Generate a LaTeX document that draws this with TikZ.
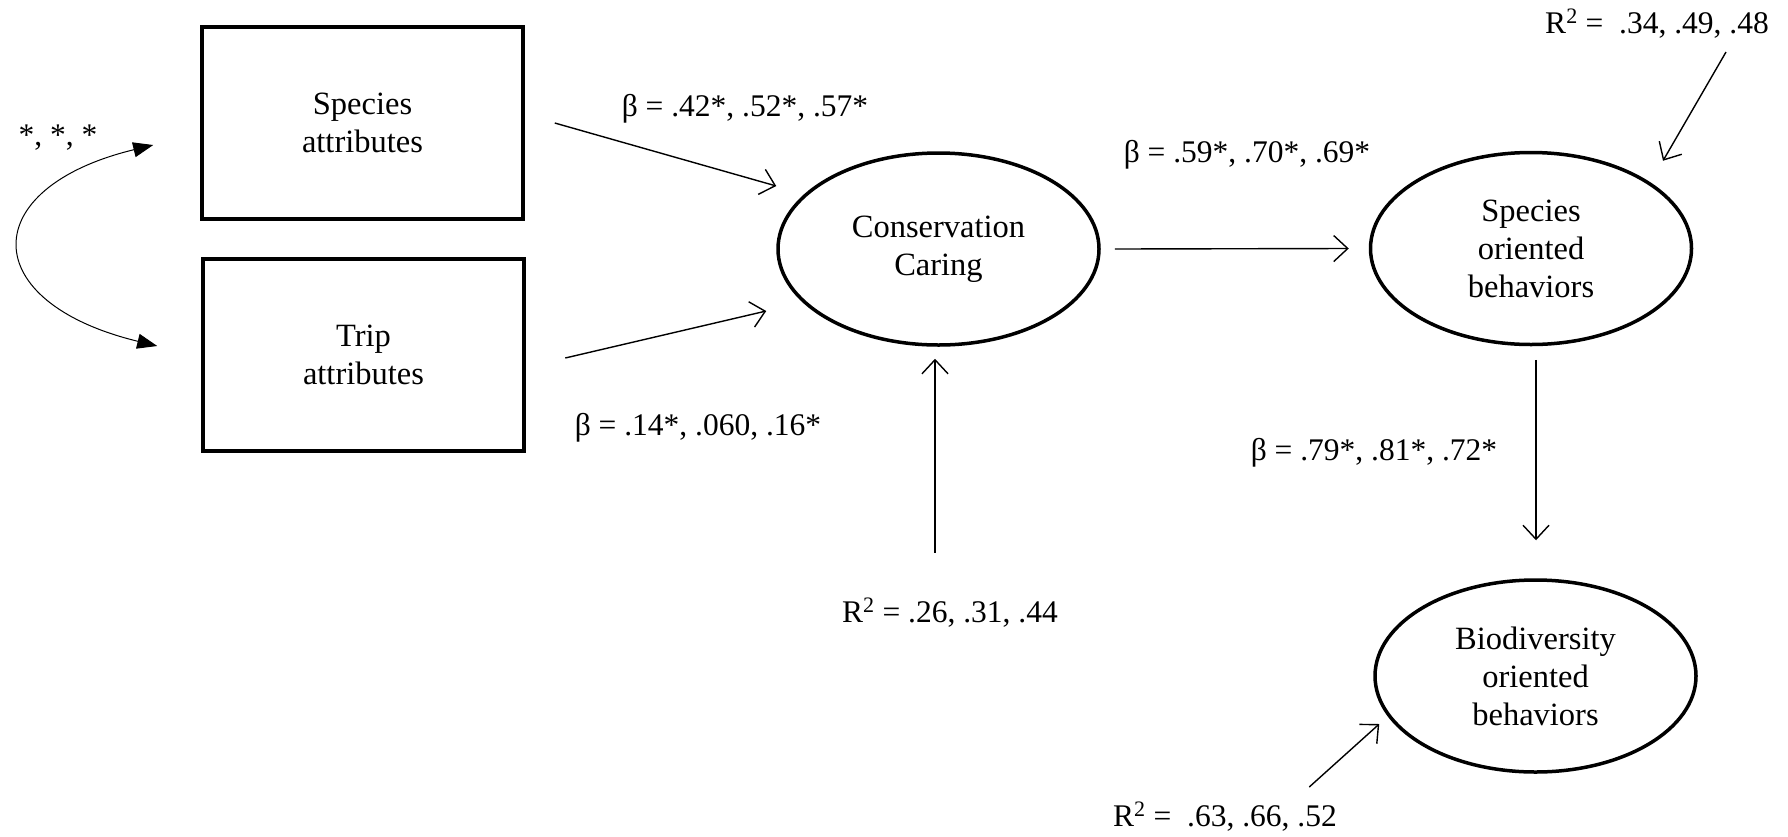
\documentclass[tikz,border=0pt]{standalone}
\usepackage{fontspec}
\setmainfont{Liberation Serif}
\usetikzlibrary{shapes.geometric,arrows.meta,calc}
\begin{document}
\begin{tikzpicture}[x=1pt,y=-1pt,
  nodetxt/.style={font=\fontsize{32.5}{38}\selectfont, align=center, inner sep=0pt},
  attrbox/.style={draw, rectangle, line width=3.5pt, minimum width=321pt, minimum height=192pt, nodetxt},
  latent/.style={draw, ellipse, line width=3.5pt, minimum width=321pt, minimum height=192pt, nodetxt},
  lbl/.style={font=\fontsize{31.5}{36}\selectfont, inner sep=0pt, anchor=base},
  effect/.style={line width=1.4pt, -{Straight Barb[length=14pt,width=26pt,line width=1.4pt]}},
  covar/.style={line width=1pt, {Triangle[length=20pt,width=15pt]}-{Triangle[length=20pt,width=15pt]}}]
\useasboundingbox (0,0) rectangle (1788,836);

% observed predictors
\node[attrbox] (sa) at (362.5,123) {Species\\attributes};
\node[attrbox] (ta) at (363.5,355) {Trip\\attributes};

% latent constructs
\node[latent] (cc)  at (938.5,249)  {Conservation\\Caring};
\node[latent] (sob) at (1531,248.5) {Species\\oriented\\behaviors};
\node[latent] (bob) at (1535.5,676) {Biodiversity\\oriented\\behaviors};

% coefficients and explained variance
\node[lbl] (cov) at (58,145)   {*, *, *};
\node[lbl] (b1)  at (745,116)  {β = .42*, .52*, .57*};
\node[lbl] (b2)  at (698,435)  {β = .14*, .060, .16*};
\node[lbl] (b3)  at (1247,162) {β = .59*, .70*, .69*};
\node[lbl] (b4)  at (1374,460) {β = .79*, .81*, .72*};
\node[lbl] (r1)  at (950,622)  {R\textsuperscript{2} = .26, .31, .44};
\node[lbl] (r2)  at (1657,33)  {R\textsuperscript{2} =\ \ .34, .49, .48};
\node[lbl] (r3)  at (1225,826) {R\textsuperscript{2} =\ \ .63, .66, .52};

% covariance between the two predictors
\draw[covar] ($(sa.west)+(-47,22)$) .. controls (-24,188) and (-24,302) .. ($(ta.west)+(-44,-9)$);

% structural paths
\draw[effect] ($(sa.east)+(30,0)$) -- ($(cc.west)+(0,-63)$);
\draw[effect] ($(ta.east)+(39.5,3)$) -- ($(cc.west)+(-10,62)$);
\draw[effect] ($(cc.east)+(14,0)$) -- ($(sob.west)+(-20,0)$);
\draw[effect] ($(sob.south)+(5,13.5)$) -- ($(bob.north)+(0.5,-38)$);

% disturbance terms
\draw[effect] ($(cc.south)+(-3.5,206)$) -- ($(cc.south)+(-3.5,12)$);
\draw[effect] ($(r2.south east)+(-43,14)$) -- ($(sob.north)+(132,10)$);
\draw[effect] ($(bob.west)+(-64,111)$) -- ($(bob.west)+(6,48)$);
\end{tikzpicture}
\end{document}
